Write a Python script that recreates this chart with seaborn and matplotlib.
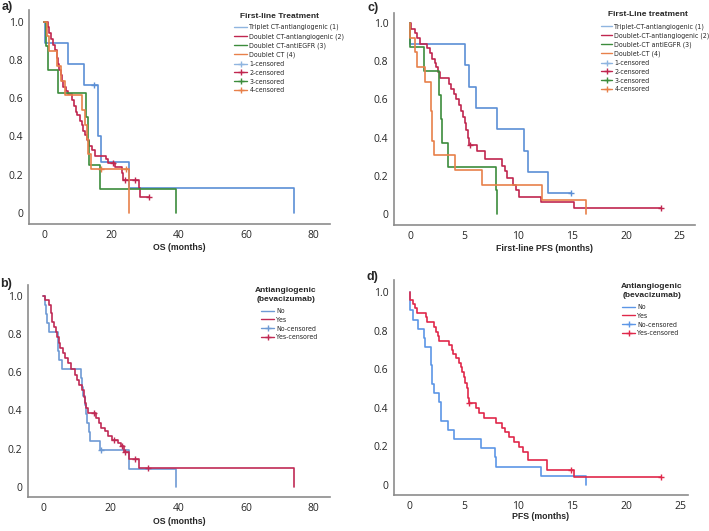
import matplotlib
matplotlib.use("Agg")
import matplotlib.pyplot as plt
import matplotlib.font_manager as fm
from matplotlib.lines import Line2D
import seaborn as sns

# ---- panel a: OS by first-line treatment ----
A_TRIPLET_T = [0.3, 7.1, 11.9, 16.0, 16.9, 25.3, 74.3]
A_TRIPLET_S = [0.889, 0.778, 0.667, 0.40, 0.267, 0.133, 0.0]
A_TRIPLET_C = [14.9]

A_DOUBLET_AA_T = [1.2, 1.5, 1.9, 2.7, 3.2, 3.7, 4.2, 4.5, 4.9, 5.2, 5.7, 6.5, 7.1, 8.1, 8.8, 9.4,
                  9.8, 10.6, 11.1, 11.6, 12.1, 12.8, 13.4, 14.1, 15.1, 18.3, 19.0, 21.0, 23.0, 23.5,
                  28.2, 28.6]
A_DOUBLET_AA_S = [0.97, 0.94, 0.91, 0.88, 0.85, 0.81, 0.78, 0.75, 0.72, 0.69, 0.66, 0.64, 0.62, 0.59,
                  0.56, 0.53, 0.51, 0.48, 0.46, 0.43, 0.41, 0.38, 0.35, 0.33, 0.30, 0.28, 0.26, 0.24,
                  0.21, 0.17, 0.13, 0.085]
A_DOUBLET_AA_C = [20.5, 24.0, 27.0, 31.2]

A_ANTIEGFR_T = [0.5, 1.2, 4.0, 12.5, 13.0, 13.4, 16.6, 39.2]
A_ANTIEGFR_S = [0.875, 0.75, 0.625, 0.5, 0.375, 0.25, 0.125, 0.0]
A_ANTIEGFR_C = []

A_DOUBLET_T = [0.8, 1.5, 3.7, 5.0, 6.3, 11.1, 12.0, 12.6, 13.1, 13.8, 25.3]
A_DOUBLET_S = [0.923, 0.846, 0.769, 0.692, 0.615, 0.538, 0.462, 0.385, 0.308, 0.231, 0.0]
A_DOUBLET_C = [17.0, 24.2]

# ---- panel b: OS by bevacizumab ----
B_NO_T = [0.6, 1.0, 1.3, 1.7, 4.3, 4.45, 4.75, 5.7, 11.1, 11.4, 11.9, 12.4, 12.8, 13.1, 13.5, 13.9,
          16.8, 25.5, 39.3]
B_NO_S = [0.952, 0.905, 0.857, 0.810, 0.762, 0.714, 0.667, 0.619, 0.571, 0.524, 0.476, 0.429, 0.381,
          0.333, 0.286, 0.238, 0.190, 0.095, 0.0]
B_NO_C = [17.3]

B_YES_T = [0.5, 1.7, 2.3, 2.7, 3.3, 3.8, 4.2, 4.7, 5.1, 5.9, 6.6, 7.4, 8.2, 9.4, 10.1, 10.7, 11.4,
           12.1, 12.4, 12.8, 13.3, 15.8, 16.5, 17.3, 18.3, 19.3, 20.5, 22.2, 23.0, 24.0, 25.5, 28.5,
           74.3]
B_YES_S = [0.979, 0.953, 0.909, 0.866, 0.84, 0.813, 0.787, 0.752, 0.726, 0.70, 0.674, 0.648, 0.618,
           0.587, 0.56, 0.534, 0.508, 0.473, 0.438, 0.412, 0.389, 0.36, 0.334, 0.307, 0.29, 0.264,
           0.246, 0.229, 0.211, 0.182, 0.145, 0.10, 0.0]
B_YES_C = [15.1, 21.0, 23.4, 24.4, 27.2, 31.1]

# ---- panel c: first-line PFS by treatment ----
C_TRIPLET_T = [0.0, 5.1, 5.45, 6.1, 8.0, 10.5, 10.9, 12.8]
C_TRIPLET_S = [0.889, 0.778, 0.667, 0.556, 0.444, 0.333, 0.222, 0.111]
C_TRIPLET_C = [14.9]

C_DOUBLET_AA_T = [0.05, 0.4, 0.65, 0.86, 1.54, 1.79, 2.01, 2.26, 2.41, 2.57, 2.72, 3.59, 3.74, 4.05,
                  4.27, 4.48, 4.73, 4.89, 5.04, 5.2, 5.35, 5.41, 6.2, 6.9, 8.5, 8.75, 9.0, 9.5, 9.8,
                  10.1, 12.1, 15.2]
C_DOUBLET_AA_S = [0.97, 0.945, 0.92, 0.89, 0.866, 0.84, 0.813, 0.79, 0.77, 0.745, 0.71, 0.683, 0.657,
                  0.631, 0.6, 0.57, 0.54, 0.51, 0.475, 0.44, 0.4, 0.36, 0.33, 0.29, 0.255, 0.225,
                  0.19, 0.155, 0.125, 0.093, 0.067, 0.033]
C_DOUBLET_AA_C = [5.5, 23.2]

C_ANTIEGFR_T = [0.0, 1.27, 2.66, 2.8, 2.9, 3.5, 7.9, 8.05]
C_ANTIEGFR_S = [0.875, 0.75, 0.625, 0.5, 0.375, 0.25, 0.125, 0.0]
C_ANTIEGFR_C = []

C_DOUBLET_T = [0.0, 0.4, 0.65, 1.4, 1.9, 1.95, 2.0, 2.05, 2.2, 4.1, 6.6, 12.2, 16.3]
C_DOUBLET_S = [0.923, 0.846, 0.769, 0.692, 0.615, 0.538, 0.462, 0.385, 0.308, 0.231, 0.154, 0.077, 0.0]
C_DOUBLET_C = []

# ---- panel d: PFS by bevacizumab ----
D_NO_T = [0.0, 0.05, 0.3, 0.77, 1.3, 1.45, 1.95, 2.0, 2.02, 2.05, 2.2, 2.7, 2.85, 2.9, 3.5, 4.1, 6.6,
          7.9, 8.0, 12.1, 16.3]
D_NO_S = [0.952, 0.905, 0.857, 0.810, 0.762, 0.714, 0.667, 0.619, 0.571, 0.524, 0.476, 0.429, 0.381,
          0.333, 0.286, 0.238, 0.190, 0.143, 0.095, 0.048, 0.0]
D_NO_C = []

D_YES_T = [0.0, 0.3, 0.5, 0.7, 1.48, 1.64, 2.25, 2.4, 2.6, 2.7, 3.6, 3.86, 4.0, 4.3, 4.55, 4.7, 4.85,
           5.0, 5.1, 5.25, 5.35, 5.4, 5.45, 6.1, 6.4, 6.9, 8.0, 8.5, 8.8, 9.2, 9.6, 10.1, 10.5, 10.9,
           12.7, 15.2]
D_YES_S = [0.958, 0.94, 0.915, 0.89, 0.868, 0.846, 0.82, 0.794, 0.77, 0.748, 0.725, 0.70, 0.68, 0.656,
           0.63, 0.61, 0.585, 0.56, 0.53, 0.50, 0.475, 0.45, 0.425, 0.40, 0.372, 0.347, 0.32, 0.296,
           0.272, 0.247, 0.222, 0.198, 0.173, 0.13, 0.078, 0.04]
D_YES_C = [5.5, 14.9, 23.2]

Y_TICKS = [0, 0.2, 0.4, 0.6, 0.8, 1.0]
Y_LABELS = ["0", "0.2", "0.4", "0.6", "0.8", "1.0"]

BLUE = "#5b8fd6"
RED = "#c0264f"
GREEN = "#3c8c3c"
ORANGE = "#e8804a"
W, H = 709, 531

sns.set_style("white")
plt.rcParams["font.family"] = ["Liberation Sans", "DejaVu Sans"]


def narrow_font():
    # legend text in the reference is a condensed face; use one if the system has it
    for f in fm.fontManager.ttflist:
        n = f.fname.lower()
        if ("narrow" in n or "condensed" in n) and "bold" not in n and "italic" not in n \
                and "oblique" not in n and "mono" not in n and "serif" not in n.replace("sans", ""):
            return fm.FontProperties(fname=f.fname, size=5.0), True
    return fm.FontProperties(family="Liberation Sans", size=4.4), False


LEG_FONT, IS_NARROW = narrow_font()


def surv_at(times, surv, t):
    s = 1.0
    for ti, si in zip(times, surv):
        if ti <= t:
            s = si
    return s


def km(ax, times, surv, cens, color):
    x = [0.0] + list(times)
    y = [1.0] + list(surv)
    if cens and max(cens) > x[-1]:
        x.append(max(cens))
        y.append(y[-1])
    sns.lineplot(x=x, y=y, drawstyle="steps-post", estimator=None, sort=False,
                 color=color, lw=1.2, ax=ax)
    if cens:
        sns.scatterplot(x=cens, y=[surv_at(times, surv, c) for c in cens], marker="+",
                        s=22, color=color, linewidth=1.0, ax=ax, zorder=3)


def make_axes(fig, box, xlim, ylim, xticks, xlabel, label_y):
    l, t, r, b = box
    ax = fig.add_axes([l / W, 1 - b / H, (r - l) / W, (b - t) / H])
    ax.set_xlim(xlim)
    ax.set_ylim(ylim)
    ax.set_xticks(xticks)
    ax.set_yticks(Y_TICKS)
    ax.set_yticklabels(Y_LABELS)
    for s in ["top", "right"]:
        ax.spines[s].set_visible(False)
    for s in ["left", "bottom"]:
        ax.spines[s].set_color("#8c8c8c")
        ax.spines[s].set_linewidth(1.2)
    ax.tick_params(length=0, pad=4, labelsize=7.5)
    for lab in ax.get_xticklabels() + ax.get_yticklabels():
        lab.set_family(["Open Sans", "DejaVu Sans"])
    ax.set_xlabel(xlabel, fontsize=6.3, fontweight="bold")
    ax.xaxis.set_label_coords(0.5, label_y)
    ax.xaxis.label.set_va("center")
    ax.set_ylabel("")
    return ax


def add_legend(fig, colors, names, title, title_xy, anchor, hlen=1.9):
    fig.text(title_xy[0] / W, 1 - title_xy[1] / H, title, fontsize=6, fontweight="bold",
             ha="center", va="center", linespacing=1.45)
    handles = [Line2D([0], [0], color=c, lw=1.0) for c in colors]
    handles += [Line2D([0], [0], color=c, lw=1.0, marker="+", markersize=5) for c in colors]
    fig.legend(handles, names, loc="upper left",
               bbox_to_anchor=(anchor[0] / W, 1 - anchor[1] / H), frameon=False,
               prop=LEG_FONT, handlelength=hlen, handletextpad=0.3,
               labelspacing=0.4, borderpad=0, borderaxespad=0)


fig = plt.figure(figsize=(W / 100, H / 100), dpi=100)

# panel a
ax = make_axes(fig, (29, 10, 330, 224), (-4.55, 85.0), (-0.0575, 1.061),
               [0, 20, 40, 60, 80], "OS (months)", -0.112)
km(ax, A_TRIPLET_T, A_TRIPLET_S, A_TRIPLET_C, BLUE)
km(ax, A_DOUBLET_AA_T, A_DOUBLET_AA_S, A_DOUBLET_AA_C, RED)
km(ax, A_ANTIEGFR_T, A_ANTIEGFR_S, A_ANTIEGFR_C, GREEN)
km(ax, A_DOUBLET_T, A_DOUBLET_S, A_DOUBLET_C, ORANGE)
add_legend(fig, ["#8fb5e0", RED, GREEN, ORANGE],
           ["Triplet CT-antiangiogenic (1)", "Doublet CT-antiangiogenic (2)",
            "Doublet CT-antiEGFR (3)", "Doublet CT (4)",
            "1-censored", "2-censored", "3-censored", "4-censored"],
           "First-line Treatment", (279, 16), (234, 24))

# panel c
ax = make_axes(fig, (394, 13, 695, 225), (-1.52, 26.4), (-0.055, 1.051),
               [0, 5, 10, 15, 20, 25], "First-line PFS (months)", -0.110)
km(ax, C_TRIPLET_T, C_TRIPLET_S, C_TRIPLET_C, BLUE)
km(ax, C_DOUBLET_AA_T, C_DOUBLET_AA_S, C_DOUBLET_AA_C, RED)
km(ax, C_ANTIEGFR_T, C_ANTIEGFR_S, C_ANTIEGFR_C, GREEN)
km(ax, C_DOUBLET_T, C_DOUBLET_S, C_DOUBLET_C, ORANGE)
add_legend(fig, ["#8fb5e0", RED, GREEN, ORANGE],
           ["Triplet-CT-antiangiogenic (1)", "Doublet-CT-antiangiogenic (2)",
            "Doublet-CT antiEGFR (3)", "Doublet-CT (4)",
            "1-censored", "2-censored", "3-censored", "4-censored"],
           "First-Line treatment", (648, 15), (601, 23), hlen=1.6)

# panel b
ax = make_axes(fig, (28, 285, 330, 497), (-4.44, 84.9), (-0.054, 1.058),
               [0, 20, 40, 60, 80], "OS (months)", -0.115)
km(ax, B_NO_T, B_NO_S, B_NO_C, "#6e9ad4")
km(ax, B_YES_T, B_YES_S, B_YES_C, "#c02a55")
add_legend(fig, ["#6e9ad4", "#c02a55"],
           ["No", "Yes", "No-censored", "Yes-censored"],
           "Antiangiogenic\n(bevacizumab)", (286, 295), (261, 308))

# panel d
ax = make_axes(fig, (394, 280, 688, 495), (-1.45, 25.7), (-0.052, 1.062),
               [0, 5, 10, 15, 20, 25], "PFS (months)", -0.101)
km(ax, D_NO_T, D_NO_S, D_NO_C, "#5c96e6")
km(ax, D_YES_T, D_YES_S, D_YES_C, "#e0284a")
add_legend(fig, ["#5c96e6", "#e0284a"],
           ["No", "Yes", "No-censored", "Yes-censored"],
           "Antiangiogenic\n(bevacizumab)", (652, 291), (622, 304))

for lab, (x, y) in zip(["a)", "b)", "c)", "d)"], [(7, 7), (6, 284), (373, 8), (372, 277)]):
    fig.text(x / W, 1 - y / H, lab, fontsize=9, fontweight="bold", ha="center", va="center")

fig.savefig("out.png", dpi=100)
